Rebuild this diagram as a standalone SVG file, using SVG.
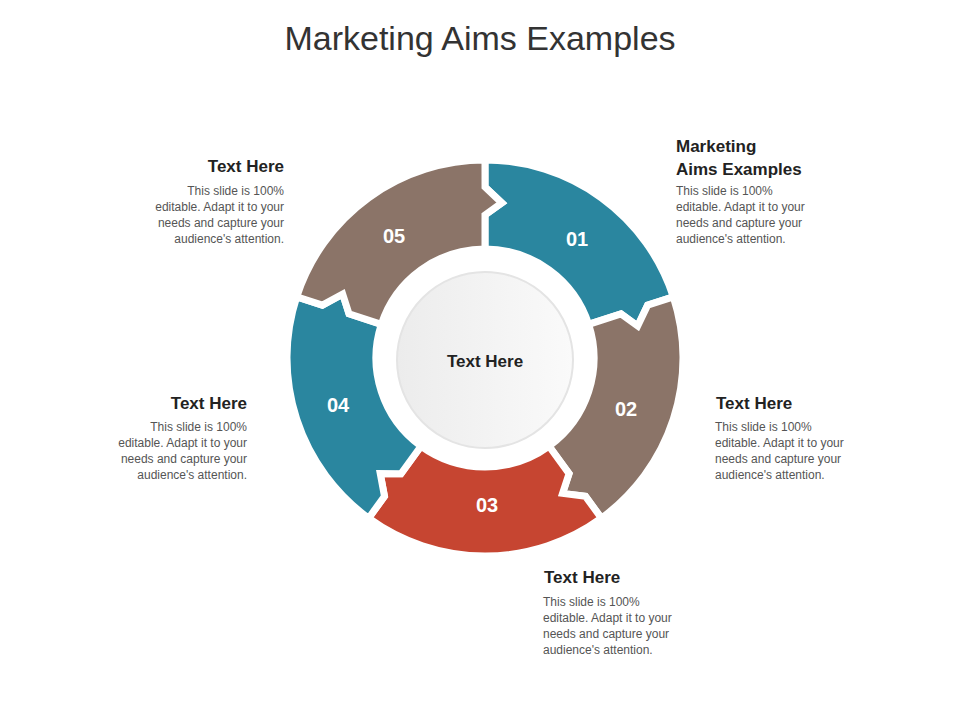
<svg xmlns="http://www.w3.org/2000/svg" width="960" height="720" viewBox="0 0 960 720">
<defs>
<style>
.seg{stroke:#fff;stroke-width:7;stroke-linejoin:miter}
.num{font-family:"Liberation Sans",Arial,sans-serif;font-weight:bold;font-size:20px;fill:#fff;text-anchor:middle}
.h{font-family:"Liberation Sans",Arial,sans-serif;font-weight:bold;font-size:17px;fill:#222}
.b{font-family:"Liberation Sans",Arial,sans-serif;font-size:12px;fill:#555}
.r{text-anchor:end}
</style>
<path id="s" class="seg" d="M485,160 A198,198 0 0 1 673.3,296.8 L647.6,305.2 L637.7,326.1 L621,313.8 L588.7,324.3 A109,109 0 0 0 485,249 L485,215 L501.8,202.9 L485,187 Z"/>
<linearGradient id="g" x1="0" y1="0" x2="1" y2="0"><stop offset="0" stop-color="#ececec"/><stop offset="1" stop-color="#fafafa"/></linearGradient>
</defs>
<rect width="960" height="720" fill="#fff"/>
<text x="480" y="50" font-family="'Liberation Sans',Arial,sans-serif" font-size="34" fill="#333" text-anchor="middle">Marketing Aims Examples</text>
<g id="n1"><use href="#s" fill="#2a869f"/><text class="num" x="577" y="246">01</text></g>
<g id="n2"><use href="#s" fill="#8b7468" transform="rotate(72 485 358)"/><text class="num" x="626" y="416">02</text></g>
<g id="n3"><use href="#s" fill="#c64531" transform="rotate(144 485 358)"/><text class="num" x="487" y="512">03</text></g>
<g id="n4"><use href="#s" fill="#2a869f" transform="rotate(216 485 358)"/><text class="num" x="338" y="412">04</text></g>
<g id="n5"><use href="#s" fill="#8b7468" transform="rotate(288 485 358)"/><text class="num" x="394" y="243">05</text></g>
<g id="center"><circle cx="485" cy="360" r="88" fill="url(#g)" stroke="#e4e4e4" stroke-width="2"/><text class="h" x="485" y="367" text-anchor="middle">Text Here</text></g>
<g id="t1"><text class="h" x="676" y="152">Marketing</text><text class="h" x="676" y="175">Aims Examples</text>
<text class="b" x="676" y="195">This slide is 100%</text><text class="b" x="676" y="211">editable. Adapt it to your</text><text class="b" x="676" y="227">needs and capture your</text><text class="b" x="676" y="243">audience's attention.</text></g>
<g id="t2"><text class="h" x="716" y="409">Text Here</text>
<text class="b" x="715" y="431">This slide is 100%</text><text class="b" x="715" y="447">editable. Adapt it to your</text><text class="b" x="715" y="463">needs and capture your</text><text class="b" x="715" y="479">audience's attention.</text></g>
<g id="t3"><text class="h" x="544" y="583">Text Here</text>
<text class="b" x="543" y="606">This slide is 100%</text><text class="b" x="543" y="622">editable. Adapt it to your</text><text class="b" x="543" y="638">needs and capture your</text><text class="b" x="543" y="654">audience's attention.</text></g>
<g id="t4"><text class="h r" x="247" y="409">Text Here</text>
<text class="b r" x="247" y="431">This slide is 100%</text><text class="b r" x="247" y="447">editable. Adapt it to your</text><text class="b r" x="247" y="463">needs and capture your</text><text class="b r" x="247" y="479">audience's attention.</text></g>
<g id="t5"><text class="h r" x="284" y="172">Text Here</text>
<text class="b r" x="284" y="195">This slide is 100%</text><text class="b r" x="284" y="211">editable. Adapt it to your</text><text class="b r" x="284" y="227">needs and capture your</text><text class="b r" x="284" y="243">audience's attention.</text></g>
<g id="connectors"/>
</svg>
